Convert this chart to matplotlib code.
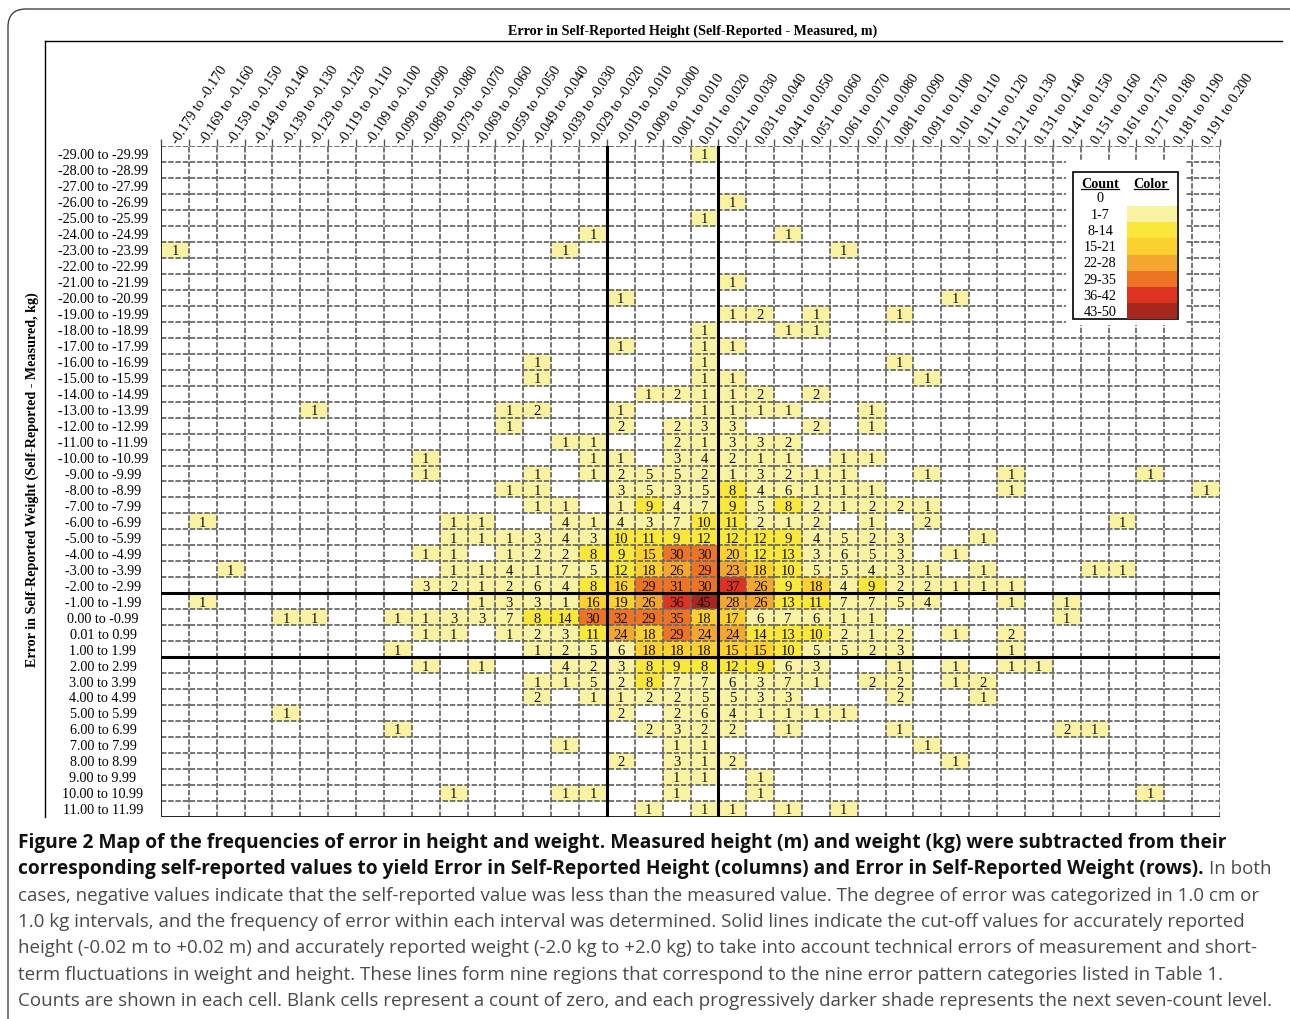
import matplotlib
matplotlib.use("Agg")
import matplotlib.pyplot as plt
import numpy as np
from matplotlib.colors import ListedColormap, BoundaryNorm
from matplotlib.patches import Rectangle, FancyBboxPatch
from matplotlib.lines import Line2D
from matplotlib.transforms import blended_transform_factory, IdentityTransform

# ---- data -------------------------------------------------------------
col_labels = [
    "-0.179 to -0.170", "-0.169 to -0.160", "-0.159 to -0.150", "-0.149 to -0.140",
    "-0.139 to -0.130", "-0.129 to -0.120", "-0.119 to -0.110", "-0.109 to -0.100",
    "-0.099 to -0.090", "-0.089 to -0.080", "-0.079 to -0.070", "-0.069 to -0.060",
    "-0.059 to -0.050", "-0.049 to -0.040", "-0.039 to -0.030", "-0.029 to -0.020",
    "-0.019 to -0.010", "-0.009 to -0.000", "0.001 to 0.010", "0.011 to 0.020",
    "0.021 to 0.030", "0.031 to 0.040", "0.041 to 0.050", "0.051 to 0.060",
    "0.061 to 0.070", "0.071 to 0.080", "0.081 to 0.090", "0.091 to 0.100",
    "0.101 to 0.110", "0.111 to 0.120", "0.121 to 0.130", "0.131 to 0.140",
    "0.141 to 0.150", "0.151 to 0.160", "0.161 to 0.170", "0.171 to 0.180",
    "0.181 to 0.190", "0.191 to 0.200",
]

row_labels = [
    "-29.00 to -29.99", "-28.00 to -28.99", "-27.00 to -27.99", "-26.00 to -26.99",
    "-25.00 to -25.99", "-24.00 to -24.99", "-23.00 to -23.99", "-22.00 to -22.99",
    "-21.00 to -21.99", "-20.00 to -20.99", "-19.00 to -19.99", "-18.00 to -18.99",
    "-17.00 to -17.99", "-16.00 to -16.99", "-15.00 to -15.99", "-14.00 to -14.99",
    "-13.00 to -13.99", "-12.00 to -12.99", "-11.00 to -11.99", "-10.00 to -10.99",
    "-9.00 to -9.99", "-8.00 to -8.99", "-7.00 to -7.99", "-6.00 to -6.99",
    "-5.00 to -5.99", "-4.00 to -4.99", "-3.00 to -3.99", "-2.00 to -2.99",
    "-1.00 to -1.99", "0.00 to -0.99", "0.01 to 0.99", "1.00 to 1.99",
    "2.00 to 2.99", "3.00 to 3.99", "4.00 to 4.99", "5.00 to 5.99",
    "6.00 to 6.99", "7.00 to 7.99", "8.00 to 8.99", "9.00 to 9.99",
    "10.00 to 10.99", "11.00 to 11.99",
]

# non-zero counts per row, keyed by column index (blank cells = 0)
counts = [
    {19: 1},
    {},
    {},
    {20: 1},
    {19: 1},
    {15: 1, 22: 1},
    {0: 1, 14: 1, 24: 1},
    {},
    {20: 1},
    {16: 1, 28: 1},
    {20: 1, 21: 2, 23: 1, 26: 1},
    {19: 1, 22: 1, 23: 1},
    {16: 1, 19: 1, 20: 1},
    {13: 1, 19: 1, 26: 1},
    {13: 1, 19: 1, 20: 1, 27: 1},
    {17: 1, 18: 2, 19: 1, 20: 1, 21: 2, 23: 2},
    {5: 1, 12: 1, 13: 2, 16: 1, 19: 1, 20: 1, 21: 1, 22: 1, 25: 1},
    {12: 1, 16: 2, 18: 2, 19: 3, 20: 3, 23: 2, 25: 1},
    {14: 1, 15: 1, 18: 2, 19: 1, 20: 3, 21: 3, 22: 2},
    {9: 1, 15: 1, 16: 1, 18: 3, 19: 4, 20: 2, 21: 1, 22: 1, 24: 1, 25: 1},
    {9: 1, 13: 1, 15: 1, 16: 2, 17: 5, 18: 5, 19: 2, 20: 1, 21: 3, 22: 2, 23: 1,
     24: 1, 27: 1, 30: 1, 35: 1},
    {12: 1, 13: 1, 16: 3, 17: 5, 18: 3, 19: 5, 20: 8, 21: 4, 22: 6, 23: 1, 24: 1,
     25: 1, 30: 1, 37: 1},
    {13: 1, 14: 1, 16: 1, 17: 9, 18: 4, 19: 7, 20: 9, 21: 5, 22: 8, 23: 2, 24: 1,
     25: 2, 26: 2, 27: 1},
    {1: 1, 10: 1, 11: 1, 14: 4, 15: 1, 16: 4, 17: 3, 18: 7, 19: 10, 20: 11, 21: 2,
     22: 1, 23: 2, 25: 1, 27: 2, 34: 1},
    {10: 1, 11: 1, 12: 1, 13: 3, 14: 4, 15: 3, 16: 10, 17: 11, 18: 9, 19: 12, 20: 12,
     21: 12, 22: 9, 23: 4, 24: 5, 25: 2, 26: 3, 29: 1},
    {9: 1, 10: 1, 12: 1, 13: 2, 14: 2, 15: 8, 16: 9, 17: 15, 18: 30, 19: 30, 20: 20,
     21: 12, 22: 13, 23: 3, 24: 6, 25: 5, 26: 3, 28: 1},
    {2: 1, 10: 1, 11: 1, 12: 4, 13: 1, 14: 7, 15: 5, 16: 12, 17: 18, 18: 26, 19: 29,
     20: 23, 21: 18, 22: 10, 23: 5, 24: 5, 25: 4, 26: 3, 27: 1, 29: 1, 33: 1, 34: 1},
    {9: 3, 10: 2, 11: 1, 12: 2, 13: 6, 14: 4, 15: 8, 16: 16, 17: 29, 18: 31, 19: 30,
     20: 37, 21: 26, 22: 9, 23: 18, 24: 4, 25: 9, 26: 2, 27: 2, 28: 1, 29: 1, 30: 1},
    {1: 1, 11: 1, 12: 3, 13: 3, 14: 1, 15: 16, 16: 19, 17: 26, 18: 36, 19: 45, 20: 28,
     21: 26, 22: 13, 23: 11, 24: 7, 25: 7, 26: 5, 27: 4, 30: 1, 32: 1},
    {4: 1, 5: 1, 8: 1, 9: 1, 10: 3, 11: 3, 12: 7, 13: 8, 14: 14, 15: 30, 16: 32, 17: 29,
     18: 35, 19: 18, 20: 17, 21: 6, 22: 7, 23: 6, 24: 1, 25: 1, 32: 1},
    {9: 1, 10: 1, 12: 1, 13: 2, 14: 3, 15: 11, 16: 24, 17: 18, 18: 29, 19: 24, 20: 24,
     21: 14, 22: 13, 23: 10, 24: 2, 25: 1, 26: 2, 28: 1, 30: 2},
    {8: 1, 13: 1, 14: 2, 15: 5, 16: 6, 17: 18, 18: 18, 19: 18, 20: 15, 21: 15, 22: 10,
     23: 5, 24: 5, 25: 2, 26: 3, 30: 1},
    {9: 1, 11: 1, 14: 4, 15: 2, 16: 3, 17: 8, 18: 9, 19: 8, 20: 12, 21: 9, 22: 6, 23: 3,
     26: 1, 28: 1, 30: 1, 31: 1},
    {13: 1, 14: 1, 15: 5, 16: 2, 17: 8, 18: 7, 19: 7, 20: 6, 21: 3, 22: 7, 23: 1, 25: 2,
     26: 2, 28: 1, 29: 2},
    {13: 2, 15: 1, 16: 1, 17: 2, 18: 2, 19: 5, 20: 5, 21: 3, 22: 3, 26: 2, 29: 1},
    {4: 1, 16: 2, 18: 2, 19: 6, 20: 4, 21: 1, 22: 1, 23: 1, 24: 1},
    {8: 1, 17: 2, 18: 3, 19: 2, 20: 2, 22: 1, 26: 1, 32: 2, 33: 1},
    {14: 1, 18: 1, 19: 1, 27: 1},
    {16: 2, 18: 3, 19: 1, 20: 2, 28: 1},
    {18: 1, 19: 1, 21: 1},
    {10: 1, 14: 1, 15: 1, 18: 1, 21: 1, 35: 1},
    {17: 1, 19: 1, 20: 1, 22: 1, 24: 1},
]

level_labels = ["0", "1-7", "8-14", "15-21", "22-28", "29-35", "36-42", "43-50"]
level_bounds = [0, 0.5, 7.5, 14.5, 21.5, 28.5, 35.5, 42.5, 50.5]
level_colors = ["#FFFFFF", "#F8F2A2", "#F9E73A", "#FCD02E", "#F4A72F",
                "#EC7424", "#DE3320", "#A6281D"]

# cut-off lines (column / row boundaries)
height_cuts = [16, 20]
weight_cuts = [28, 32]

title = "Error in Self-Reported Height (Self-Reported - Measured, m)"
ylabel = "Error in Self-Reported Weight (Self-Reported - Measured, kg)"

caption = [
    [("Figure 2 Map of the frequencies of error in height and weight. Measured height (m) and weight (kg) were subtracted from their", True)],
    [("corresponding self-reported values to yield Error in Self-Reported Height (columns) and Error in Self-Reported Weight (rows).", True),
     ("In both", False)],
    [("cases, negative values indicate that the self-reported value was less than the measured value. The degree of error was categorized in 1.0 cm or", False)],
    [("1.0 kg intervals, and the frequency of error within each interval was determined. Solid lines indicate the cut-off values for accurately reported", False)],
    [("height (-0.02 m to +0.02 m) and accurately reported weight (-2.0 kg to +2.0 kg) to take into account technical errors of measurement and short-", False)],
    [("term fluctuations in weight and height. These lines form nine regions that correspond to the nine error pattern categories listed in Table 1.", False)],
    [("Counts are shown in each cell. Blank cells represent a count of zero, and each progressively darker shade represents the next seven-count level.", False)],
]

# ---- figure -------------------------------------------------------------
W, H = 1290, 1020
fig = plt.figure(figsize=(W / 100, H / 100), dpi=100)
SERIF = "Liberation Serif"
SANS = "Open Sans"
LAB = 10.2  # row / column label size


def fx(px):
    return px / W


def fy(py):
    return 1 - py / H


n_rows, n_cols = len(row_labels), len(col_labels)
grid = np.zeros((n_rows, n_cols))
for r, row in enumerate(counts):
    for c, v in row.items():
        grid[r, c] = v

cmap = ListedColormap(level_colors)
norm = BoundaryNorm(level_bounds, cmap.N)

ax = fig.add_axes([fx(161), fy(818), fx(1220) - fx(161), fy(147) - fy(818)])
ax.pcolormesh(np.arange(n_cols + 1), np.arange(n_rows + 1), grid,
              cmap=cmap, norm=norm, shading="flat", zorder=1)
ax.set_xlim(0, n_cols)
ax.set_ylim(n_rows, 0)
for s in ax.spines.values():
    s.set_visible(False)

# dashed cell grid
for i in range(n_cols + 1):
    ax.axvline(i, color="#6a6a6a", lw=1.3, ls=(0, (3, 1)), zorder=2)
for j in range(n_rows + 1):
    ax.axhline(j, color="#6a6a6a", lw=1.3, ls=(0, (3, 1)), zorder=2)
ax.axvline(0, color="#222222", lw=1.4, zorder=3)
ax.axhline(n_rows, color="#222222", lw=1.4, zorder=3)
for c in height_cuts:
    ax.axvline(c, color="black", lw=2.2, zorder=3)
for r in weight_cuts:
    ax.axhline(r, color="black", lw=2.2, zorder=3)

for r in range(n_rows):
    for c in range(n_cols):
        v = int(grid[r, c])
        if v:
            ax.text(c + 0.5, r + 0.55, str(v), ha="center", va="center",
                    fontsize=10.5, family=SERIF, color="#111111", zorder=4)

# column labels on top
ax.set_xticks(np.arange(n_cols + 1))
ax.set_xticklabels([])
ax.set_xticks(np.arange(n_cols) + 0.5, minor=True)
ax.set_xticklabels(col_labels, minor=True, rotation=57, ha="left", va="center",
                   rotation_mode="anchor", fontsize=LAB, family=SERIF)
ax.tick_params(axis="x", which="major", top=True, bottom=False, labeltop=False,
               labelbottom=False, length=5, color="#555555", width=1)
ax.tick_params(axis="x", which="minor", top=True, bottom=False, labeltop=True,
               labelbottom=False, length=0, pad=3)
ax.set_yticks([])

# row labels
trans = blended_transform_factory(fig.transFigure, ax.transData)
for r, lab in enumerate(row_labels):
    fig.text(fx(103), r + 0.55, lab, transform=trans, ha="center", va="center",
             fontsize=LAB, family=SERIF)

# title, y label, rules
fig.text(fx(693), fy(31), title, ha="center", va="center", fontsize=10.2,
         family=SERIF, fontweight="bold")
fig.text(fx(32), fy(480), ylabel, ha="center", va="center", rotation=90,
         fontsize=10.2, family=SERIF, fontweight="bold")
fig.add_artist(Line2D([fx(45), fx(1282)], [fy(42), fy(42)], color="black", lw=1))
fig.add_artist(Line2D([fx(45), fx(45)], [fy(42), fy(818)], color="black", lw=1))

# outer rounded frame
fig.add_artist(FancyBboxPatch((8, -40), 1300, 1050, boxstyle="round,pad=0,rounding_size=18",
                              transform=IdentityTransform(), facecolor="none",
                              edgecolor="#444444", lw=1))

# legend
fig.add_artist(Rectangle((fx(1066), fy(326)), fx(1185) - fx(1066), fy(161) - fy(326),
                         transform=fig.transFigure, facecolor="white", edgecolor="none",
                         zorder=5))
fig.add_artist(Rectangle((fx(1073), fy(320)), fx(1178) - fx(1073), fy(173) - fy(320),
                         transform=fig.transFigure, facecolor="none", edgecolor="black",
                         lw=1.2, zorder=6))
hdr = []
for x, t in [(1100, "Count"), (1151, "Color")]:
    hdr.append(fig.text(fx(x), fy(184), t, ha="center", va="center", fontsize=10.2,
                        family=SERIF, fontweight="bold", zorder=7))
for k, lab in enumerate(level_labels):
    yc = 199 + 16.2 * k
    fig.text(fx(1100), fy(yc), lab, ha="center", va="center", fontsize=LAB,
             family=SERIF, zorder=7)
    if k > 0:
        fig.add_artist(Rectangle((fx(1127), fy(yc + 8)), fx(1177) - fx(1127), 16.2 / H,
                                 transform=fig.transFigure, facecolor=level_colors[k],
                                 edgecolor="none", zorder=6))

fig.canvas.draw()
renderer = fig.canvas.get_renderer()
for t in hdr:
    bb = t.get_window_extent(renderer)
    fig.add_artist(Line2D([bb.x0 / W, bb.x1 / W], [(bb.y0 + 1) / H] * 2,
                          color="black", lw=0.9, zorder=7))


def fit_size(text, weight, target):
    probe = fig.text(0, 0, text, fontsize=12, family=SANS, fontweight=weight)
    w = probe.get_window_extent(renderer).width
    probe.remove()
    return 12 * target / w


# caption: regular and bold sizes fitted to the reference line widths
reg_size = fit_size(caption[-1][0][0], "normal", 1250)
bold_size = fit_size(caption[1][0][0], "bold", 1180)
for li, segs in enumerate(caption):
    x = 18
    y = 843 + 26.3 * li
    for text, bold in segs:
        size = bold_size if bold else reg_size
        t = fig.text(fx(x), fy(y), text, ha="left", va="center", fontsize=size,
                     family=SANS, fontweight="bold" if bold else "normal",
                     color="#111111" if bold else "#4a4a4a")
        x = t.get_window_extent(renderer).x1 + 0.26 * size * 100 / 72

fig.savefig("out.png", dpi=100)
